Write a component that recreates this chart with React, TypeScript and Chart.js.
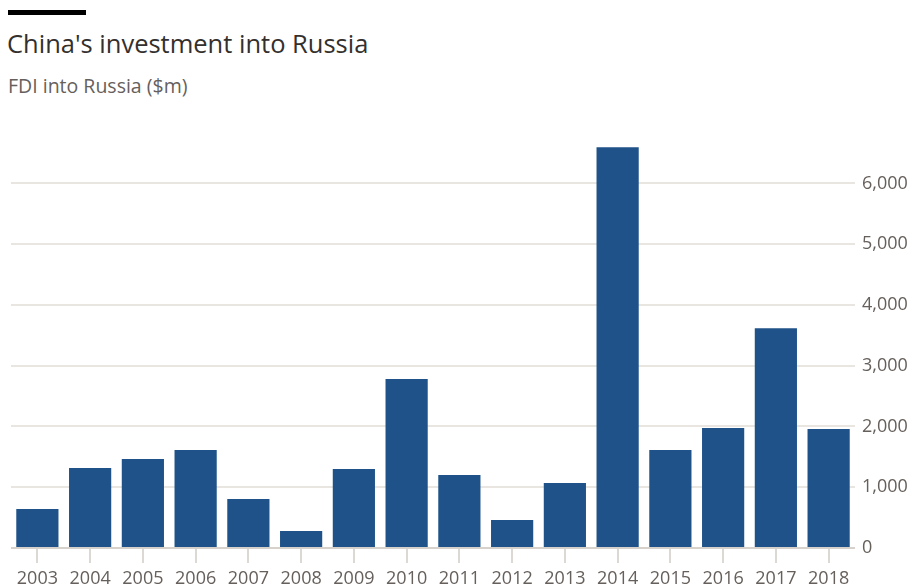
import React, { useEffect, useRef } from "react";
import { Chart, registerables } from "chart.js";

Chart.register(...registerables);

const years = ["2003", "2004", "2005", "2006", "2007", "2008", "2009", "2010", "2011", "2012", "2013", "2014", "2015", "2016", "2017", "2018"];
const fdi = [640, 1316, 1464, 1612, 806, 280, 1300, 2780, 1200, 460, 1069, 6595, 1612, 1974, 3618, 1957];
const yTicks = [0, 1000, 2000, 3000, 4000, 5000, 6000];

const FONT = "'Open Sans', sans-serif";

export default function App() {
  const ref = useRef<HTMLCanvasElement>(null);

  useEffect(() => {
    if (!ref.current) return;
    const chart = new Chart(ref.current, {
      type: "bar",
      data: {
        labels: years,
        datasets: [
          {
            data: fdi,
            backgroundColor: "#1f5289",
            borderWidth: 0,
            barPercentage: 0.8,
            categoryPercentage: 1,
          },
        ],
      },
      options: {
        animation: false,
        responsive: false,
        maintainAspectRatio: false,
        layout: { padding: { left: 11, top: 27, right: 0, bottom: 0 } },
        plugins: { legend: { display: false }, tooltip: { enabled: false } },
        scales: {
          x: {
            grid: {
              offset: false,
              drawOnChartArea: false,
              drawTicks: true,
              tickLength: 15,
              color: "#dcd8d3",
              lineWidth: 2,
            },
            border: { display: false },
            ticks: {
              color: "#66605c",
              font: { family: FONT, size: 18 },
              padding: 5,
              maxRotation: 0,
              autoSkip: false,
            },
            afterFit: (s: any) => {
              s.height = 40;
            },
          },
          y: {
            position: "right",
            min: 0,
            max: 6600,
            afterBuildTicks: (s: any) => {
              s.ticks = yTicks.map((v) => ({ value: v }));
            },
            grid: {
              drawTicks: false,
              color: (c: any) => (c.tick && c.tick.value === 0 ? "#d6d1cb" : "#e9e6e2"),
              lineWidth: 2,
            },
            border: { display: false },
            ticks: {
              color: "#66605c",
              font: { family: FONT, size: 18 },
              padding: 7,
              callback: (v: any) => Number(v).toLocaleString("en-US"),
            },
            afterFit: (s: any) => {
              s.width = 56;
            },
          },
        },
      },
    });
    return () => chart.destroy();
  }, []);

  return (
    <div style={{ position: "fixed", left: 0, top: 0, width: 911, height: 588, background: "#fff", overflow: "hidden" }}>
      <div style={{ position: "absolute", left: 8, top: 10, width: 78, height: 5, background: "#000" }} />
      <div
        style={{
          position: "absolute",
          left: 7,
          top: 31,
          fontFamily: FONT,
          fontSize: 25.5,
          lineHeight: "24px",
          color: "#33302e",
          whiteSpace: "nowrap",
        }}
      >
        China's investment into Russia
      </div>
      <div
        style={{
          position: "absolute",
          left: 8,
          top: 76,
          fontFamily: FONT,
          fontSize: 19.5,
          lineHeight: "20px",
          color: "#66605c",
          whiteSpace: "nowrap",
        }}
      >
        FDI into Russia ($m)
      </div>
      <canvas ref={ref} width={911} height={468} style={{ position: "absolute", left: 0, top: 120, width: 911, height: 468 }} />
    </div>
  );
}
